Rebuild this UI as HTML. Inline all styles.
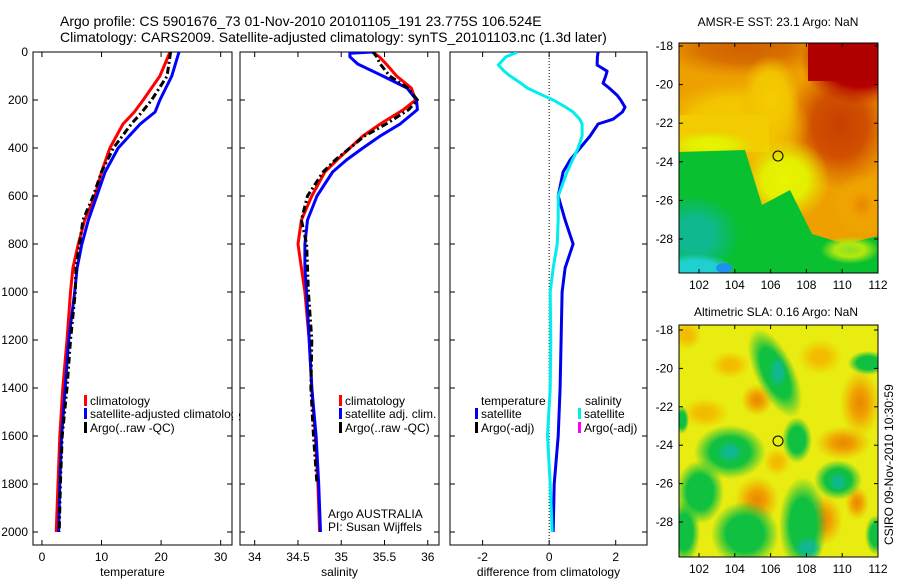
<!DOCTYPE html>
<html><head><meta charset="utf-8"><style>
html,body{margin:0;padding:0;background:#fff;}
svg{display:block;font-family:"Liberation Sans",sans-serif;}
</style></head><body>
<svg id="fig" width="900" height="580" viewBox="0 0 900 580">
<defs>
<radialGradient id="gGreen"><stop offset="0" stop-color="#10c040"/><stop offset="0.55" stop-color="#10c040"/><stop offset="1" stop-color="#10c040" stop-opacity="0"/></radialGradient>
<radialGradient id="gTeal"><stop offset="0" stop-color="#10b890"/><stop offset="0.4" stop-color="#10b890"/><stop offset="1" stop-color="#10b890" stop-opacity="0"/></radialGradient>
<radialGradient id="gOrange"><stop offset="0" stop-color="#e88800"/><stop offset="0.4" stop-color="#f0a000"/><stop offset="1" stop-color="#f0b000" stop-opacity="0"/></radialGradient>
<radialGradient id="gLOrange"><stop offset="0" stop-color="#f2b800"/><stop offset="0.4" stop-color="#f2c000"/><stop offset="1" stop-color="#f2c800" stop-opacity="0"/></radialGradient>
<radialGradient id="gLGreen"><stop offset="0" stop-color="#90e020"/><stop offset="0.5" stop-color="#b0e810"/><stop offset="1" stop-color="#b0e810" stop-opacity="0"/></radialGradient>
<radialGradient id="gDRed"><stop offset="0" stop-color="#b00000"/><stop offset="0.6" stop-color="#b40000"/><stop offset="1" stop-color="#c03000" stop-opacity="0"/></radialGradient>
<radialGradient id="gROrange"><stop offset="0" stop-color="#c84000"/><stop offset="0.5" stop-color="#d05000"/><stop offset="1" stop-color="#d86000" stop-opacity="0"/></radialGradient>
<radialGradient id="gTopOr"><stop offset="0" stop-color="#d06000"/><stop offset="0.5" stop-color="#d87000"/><stop offset="1" stop-color="#e08000" stop-opacity="0"/></radialGradient>
<radialGradient id="gYellow"><stop offset="0" stop-color="#f4cc00"/><stop offset="0.6" stop-color="#f2c400"/><stop offset="1" stop-color="#f0b800" stop-opacity="0"/></radialGradient>
<radialGradient id="gYG"><stop offset="0" stop-color="#e8f400"/><stop offset="0.5" stop-color="#e4ee00"/><stop offset="1" stop-color="#e8e000" stop-opacity="0"/></radialGradient>
<radialGradient id="gCyan"><stop offset="0" stop-color="#20d0d0"/><stop offset="0.6" stop-color="#20d0d0"/><stop offset="1" stop-color="#20d0d0" stop-opacity="0"/></radialGradient>
<clipPath id="clipTop"><rect x="679" y="43" width="199" height="230"/></clipPath>
<clipPath id="clipBot"><rect x="679" y="325" width="199" height="232"/></clipPath>
<clipPath id="c1"><rect x="33" y="52" width="199" height="493"/></clipPath>
<clipPath id="c2"><rect x="240" y="52" width="199" height="493"/></clipPath>
<clipPath id="c3"><rect x="450" y="52" width="197" height="493"/></clipPath>
</defs>
<text x="60" y="26" font-size="14">Argo profile: CS 5901676_73 01-Nov-2010 20101105_191 23.775S 106.524E</text>
<text x="60" y="42" font-size="14">Climatology: CARS2009. Satellite-adjusted climatology: synTS_20101103.nc (1.3d later)</text>

<g>
<text x="778" y="26" font-size="12" text-anchor="middle">AMSR-E SST: 23.1 Argo: NaN</text>
<g clip-path="url(#clipTop)">
<rect x="679" y="43" width="199" height="230" fill="#eda000"/>
<ellipse cx="745" cy="48" rx="90" ry="30" fill="url(#gTopOr)"/>
<ellipse cx="840" cy="125" rx="55" ry="65" fill="url(#gROrange)"/>
<ellipse cx="860" cy="60" rx="60" ry="45" fill="url(#gDRed)"/>
<rect x="808" y="43" width="72" height="38" fill="#b00000"/>
<ellipse cx="735" cy="125" rx="75" ry="45" fill="url(#gYellow)"/>
<ellipse cx="770" cy="100" rx="30" ry="45" fill="url(#gYellow)"/>
<rect x="679" y="115" width="90" height="37" fill="#f2cc00"/>
<ellipse cx="785" cy="180" rx="45" ry="42" fill="url(#gYG)"/>
<ellipse cx="710" cy="145" rx="45" ry="14" fill="url(#gYG)"/>
<polygon points="679,152 745,150 762,205 790,190 812,234 845,244 878,236 878,273 679,273" fill="#08c030"/>
<ellipse cx="850" cy="250" rx="30" ry="14" fill="url(#gLGreen)"/>
<ellipse cx="695" cy="235" rx="45" ry="40" fill="url(#gTeal)"/>
<ellipse cx="695" cy="270" rx="40" ry="16" fill="url(#gCyan)"/>
<ellipse cx="724" cy="268" rx="8" ry="5" fill="#2090f0"/>
<ellipse cx="862" cy="205" rx="28" ry="32" fill="url(#gOrange)"/>
</g>
<rect x="679" y="43" width="199" height="230" fill="none" stroke="#000" stroke-width="1"/>
<circle cx="778" cy="156" r="5" fill="none" stroke="#000" stroke-width="1"/>
<g id="sstAxes"></g>
</g>

<g>
<text x="776" y="316" font-size="12" text-anchor="middle">Altimetric SLA: 0.16 Argo: NaN</text>
<g clip-path="url(#clipBot)">
<rect x="679" y="325" width="199" height="232" fill="#e8ec10"/>
<ellipse cx="705" cy="413" rx="24" ry="15" fill="url(#gLOrange)"/>
<ellipse cx="820" cy="357" rx="22" ry="18" fill="url(#gLOrange)"/>
<ellipse cx="687" cy="335" rx="15" ry="15" fill="url(#gLOrange)"/>
<ellipse cx="777" cy="462" rx="14" ry="14" fill="url(#gLOrange)"/>
<ellipse cx="730" cy="365" rx="20" ry="14" fill="url(#gLOrange)"/>
<ellipse cx="757" cy="400" rx="16" ry="16" fill="url(#gOrange)"/>
<ellipse cx="757" cy="500" rx="22" ry="24" fill="url(#gOrange)"/>
<ellipse cx="823" cy="520" rx="20" ry="26" fill="url(#gOrange)"/>
<ellipse cx="860" cy="403" rx="20" ry="34" fill="url(#gOrange)"/>
<ellipse cx="843" cy="443" rx="28" ry="17" fill="url(#gOrange)"/>
<ellipse cx="857" cy="503" rx="12" ry="17" fill="url(#gOrange)"/>
<ellipse cx="775" cy="373" rx="20" ry="48" fill="url(#gGreen)" transform="rotate(-25 775 373)"/>
<ellipse cx="778" cy="372" rx="9" ry="16" fill="url(#gTeal)"/>
<ellipse cx="797" cy="440" rx="15" ry="23" fill="url(#gGreen)"/>
<ellipse cx="730" cy="452" rx="36" ry="27" fill="url(#gGreen)"/>
<ellipse cx="730" cy="452" rx="14" ry="11" fill="url(#gTeal)"/>
<ellipse cx="700" cy="492" rx="24" ry="32" fill="url(#gGreen)"/>
<ellipse cx="684" cy="532" rx="16" ry="32" fill="url(#gGreen)"/>
<ellipse cx="745" cy="534" rx="34" ry="33" fill="url(#gGreen)"/>
<ellipse cx="803" cy="525" rx="24" ry="48" fill="url(#gGreen)"/>
<ellipse cx="808" cy="548" rx="14" ry="12" fill="url(#gTeal)"/>
<ellipse cx="838" cy="480" rx="24" ry="20" fill="url(#gGreen)"/>
<ellipse cx="838" cy="482" rx="10" ry="10" fill="url(#gTeal)"/>
<ellipse cx="868" cy="363" rx="20" ry="12" fill="url(#gGreen)"/>
<ellipse cx="876" cy="535" rx="11" ry="20" fill="url(#gGreen)"/>
<ellipse cx="682" cy="420" rx="7" ry="14" fill="url(#gGreen)"/>
</g>
<rect x="679" y="325" width="199" height="232" fill="none" stroke="#000" stroke-width="1"/>
<circle cx="778" cy="441" r="5" fill="none" stroke="#000" stroke-width="1"/>
<g id="slaAxes"></g>
</g>
<text x="0" y="0" font-size="12" transform="translate(893,545) rotate(-90)">CSIRO 09-Nov-2010 10:30:59</text>

<g id="p1"></g>
<g id="p2"></g>
<g id="p3"></g>
</svg>
<script>
// ---- data ----
const depthT = [0,100,200,250,300,400,500,600,700,800,900,1000,1200,1400,1600,1800,2000];
const tempClim = [21.5,19.8,17,15.5,13.6,11.4,10,8.9,7.2,6.1,5.2,4.8,4.2,3.5,3.0,2.7,2.4];
const tempSat  = [23.0,21.8,19.8,19,16.5,12.8,10.6,9.2,7.8,6.7,5.9,5.5,4.5,3.9,3.3,3.0,2.8];
const tempArgo = [21.6,21,18.4,16.8,15,12,10,8.6,6.9,6.3,5.7,5.6,4.8,4.2,3.4,3.1,2.9];

const depthS = [0,5,20,50,100,150,200,240,300,350,400,450,500,600,700,800,900,1000,1200,1400,1600,1800,2000];
const salClim = [35.36,35.38,35.44,35.52,35.64,35.81,35.86,35.72,35.45,35.25,35.10,34.95,34.81,34.66,34.54,34.50,34.54,34.58,34.63,34.66,34.70,34.73,34.75];
const salSat  = [35.36,35.1,35.10,35.19,35.48,35.76,35.87,35.88,35.68,35.45,35.25,35.06,34.90,34.72,34.61,34.58,34.58,34.60,34.63,34.66,34.71,34.74,34.76];
const salArgo = [35.36,35.38,35.41,35.45,35.56,35.77,35.88,35.78,35.52,35.27,35.10,34.93,34.79,34.61,34.54,34.60,34.61,34.62,34.66,34.65,34.68,34.72,34.74];

const depthD = [0,20,54,80,100,130,150,180,200,230,250,280,300,350,400,450,500,600,700,800,900,1000,1200,1400,1600,1800,2000];
const diffTempSat = [1.47,1.45,1.44,1.74,1.70,1.62,1.8,2.04,2.15,2.28,2.2,1.92,1.47,1.23,0.93,0.63,0.42,0.27,0.48,0.72,0.48,0.39,0.36,0.33,0.27,0.15,0.12];
const diffSalSat  = [-0.95,-1.3,-1.53,-1.35,-1.17,-0.85,-0.66,-0.2,0.12,0.5,0.72,0.92,0.99,0.99,0.87,0.7,0.54,0.27,0.27,0.24,0.12,0.03,0.05,0.03,-0.05,0.03,0.09];

const depthTicks = [0,200,400,600,800,1000,1200,1400,1600,1800,2000];
const tempTicks = [0,10,20,30];
const salTicks = [34,34.5,35,35.5,36];
const diffTicks = [-2,0,2];
const lonTicks = [102,104,106,108,110,112];
const latTicks = [-18,-20,-22,-24,-26,-28];

// ---- helpers ----
const NS = "http://www.w3.org/2000/svg";
function mk(tag, parent, attrs){const e=document.createElementNS(NS,tag);for(const k in attrs)e.setAttribute(k,attrs[k]);parent.appendChild(e);return e;}
const yTop=52, yBot=545;
const yD = d => 52 + d*0.24;

function panel(g, x0, x1, xmin, xmax, ticks, fmt, label, clip, showY){
  const sx = v => x0 + (v-xmin)/(xmax-xmin)*(x1-x0);
  const box = mk('rect', g, {x:x0,y:yTop,width:x1-x0,height:yBot-yTop,fill:'#fff',stroke:'#000','stroke-width':1});
  
  
  ticks.forEach(t=>{
    const x=sx(t);
    mk('line',g,{x1:x,x2:x,y1:yBot,y2:yBot-5,stroke:'#000'});
    mk('line',g,{x1:x,x2:x,y1:yTop,y2:yTop+5,stroke:'#000'});
    const tx=mk('text',g,{x:x,y:yBot+16,'font-size':12,'text-anchor':'middle'});
    tx.textContent=fmt(t);
    
    
  });
  depthTicks.forEach(d=>{
    const y=yD(d);
    mk('line',g,{x1:x0,x2:x0+5,y1:y,y2:y,stroke:'#000'});
    mk('line',g,{x1:x1,x2:x1-5,y1:y,y2:y,stroke:'#000'});
    if(showY){
      const tx=mk('text',g,{x:28,y:y+4,'font-size':12,'text-anchor':'end'});
      tx.textContent=d;
      
      
    }
  });
  const lb=mk('text',g,{x:(x0+x1)/2,y:576,'font-size':12,'text-anchor':'middle'});
  lb.textContent=label;
  
  
  return sx;
}
function line(g, sx, depths, vals, color, dash, name, clip){
  const pts = depths.map((d,i)=>sx(vals[i]).toFixed(1)+','+yD(d).toFixed(1)).join(' ');
  const a={points:pts,fill:'none',stroke:color,'stroke-width':3,'stroke-linejoin':'round','clip-path':'url(#'+clip+')'};
  if(dash) a['stroke-dasharray']=dash;
  const p=mk('polyline',g,a);
  
  
}
function legend(g, x, y, color, text){
  mk('rect',g,{x:x,y:y-10,width:3,height:11,fill:color});
  const t=mk('text',g,{x:x+6,y:y,'font-size':12});
  t.textContent=text;
  
  
}

// panel 1
const g1=document.getElementById('p1');
const sx1=panel(g1,33,232,-1.5,31.9,tempTicks,v=>v,'temperature','c1',true);
line(g1,sx1,depthT,tempClim,'#ff0000',null,'temp-climatology-line','c1');
line(g1,sx1,depthT,tempSat,'#0000ff',null,'temp-satellite-line','c1');
line(g1,sx1,depthT,tempArgo,'#000000','7,3,2,3','temp-argo-line','c1');
legend(g1,84,405,'#ff0000','climatology');
legend(g1,84,418,'#0000ff','satellite-adjusted climatology');
legend(g1,84,432,'#000','Argo(..raw -QC)');
mk('rect',g1,{x:233,y:395,width:6,height:40,fill:'#fff'});
mk('line',g1,{x1:232,x2:232,y1:52,y2:545,stroke:'#000'});

// panel 2
const g2=document.getElementById('p2');
const sx2=panel(g2,240,439,33.83,36.13,salTicks,v=>v,'salinity','c2',false);
line(g2,sx2,depthS,salClim,'#ff0000',null,'sal-climatology-line','c2');
line(g2,sx2,depthS,salSat,'#0000ff',null,'sal-satellite-line','c2');
line(g2,sx2,depthS.slice(0,-1),salArgo.slice(0,-1),'#000000','7,3,2,3','sal-argo-line','c2');
legend(g2,339,405,'#ff0000','climatology');
legend(g2,339,418,'#0000ff','satellite adj. clim.');
legend(g2,339,432,'#000','Argo(..raw -QC)');
let t1=mk('text',g2,{x:328,y:518,'font-size':12}); t1.textContent='Argo AUSTRALIA';


let t2=mk('text',g2,{x:328,y:531,'font-size':12}); t2.textContent='PI: Susan Wijffels';



// panel 3
const g3=document.getElementById('p3');
const sx3=panel(g3,450,647,-2.98,2.94,diffTicks,v=>v,'difference from climatology','c3',false);
mk('line',g3,{x1:sx3(0),x2:sx3(0),y1:52,y2:545,stroke:'#000','stroke-dasharray':'1,2'});
line(g3,sx3,depthD,diffTempSat,'#0000ee',null,'temp-diff-satellite-line','c3');
line(g3,sx3,depthD,diffSalSat,'#00eeee',null,'sal-diff-satellite-line','c3');
let tt=mk('text',g3,{x:481,y:405,'font-size':12}); tt.textContent='temperature';


let ts=mk('text',g3,{x:585,y:405,'font-size':12}); ts.textContent='salinity';


legend(g3,475,418,'#0000ee','satellite');
legend(g3,475,432,'#000','Argo(-adj)');
legend(g3,578,418,'#00eeee','satellite');
legend(g3,578,432,'#ff00ff','Argo(-adj)');

// map axes
function mapAxes(id, yTopM, yBotM, lat18y, pxPerLat){
  const g=document.getElementById(id);
  const lx = lon => 699 + (lon-102)*17.9;
  lonTicks.forEach(l=>{
    const x=lx(l);
    mk('line',g,{x1:x,x2:x,y1:yBotM,y2:yBotM-4,stroke:'#000'});
    mk('line',g,{x1:x,x2:x,y1:yTopM,y2:yTopM+4,stroke:'#000'});
    const t=mk('text',g,{x:x,y:yBotM+16,'font-size':12,'text-anchor':'middle'});
    t.textContent=l;
    
    
  });
  latTicks.forEach(l=>{
    const y=lat18y+(-18-l)*pxPerLat;
    mk('line',g,{x1:679,x2:683,y1:y,y2:y,stroke:'#000'});
    mk('line',g,{x1:878,x2:874,y1:y,y2:y,stroke:'#000'});
    const t=mk('text',g,{x:673,y:y+4,'font-size':12,'text-anchor':'end'});
    t.textContent=l;
    
    
  });
}
mapAxes('sstAxes',43,273,46,19.3);
mapAxes('slaAxes',325,557,330,19.2);
</script>
</body></html>
